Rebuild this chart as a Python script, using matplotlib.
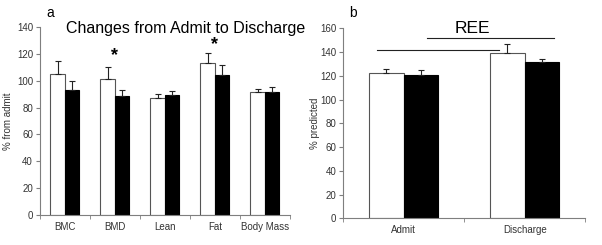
import matplotlib.pyplot as plt
import numpy as np

# panel a: body composition, % from admit
comp_labels = ["BMC", "BMD", "Lean", "Fat", "Body Mass"]
comp_white = [105, 101, 87.5, 113.5, 91.5]
comp_white_err = [10, 9, 2.5, 7, 2.5]
comp_black = [93.5, 88.5, 89.5, 104.5, 92]
comp_black_err = [6.5, 5, 3, 7.5, 3.5]
comp_star = [None, 119, None, 127, None]

# panel b: REE, % predicted
ree_labels = ["Admit", "Discharge"]
ree_white = [122.5, 139]
ree_white_err = [3.5, 8]
ree_black = [121, 131.5]
ree_black_err = [3.5, 2.5]

plt.rcParams["font.family"] = ["Liberation Sans", "DejaVu Sans"]
GREY = "#7f7f7f"
TXT = "#333333"

fig = plt.figure(figsize=(6.02, 2.45), dpi=100)
ax1 = fig.add_axes([0.0664, 0.1224, 0.415, 0.767])
ax2 = fig.add_axes([0.570, 0.109, 0.402, 0.7755])


def style(ax, labels, ymax, step):
    n = len(labels)
    ax.set_xlim(-0.5, n - 0.5)
    ax.set_ylim(0, ymax)
    ax.set_yticks(np.arange(0, ymax + 1, step))
    ax.set_xticks(np.arange(n))
    ax.set_xticklabels(labels)
    ax.set_xticks(np.arange(n + 1) - 0.5, minor=True)
    ax.tick_params(axis="x", which="major", length=0, labelsize=7,
                   labelcolor=TXT, pad=5)
    ax.tick_params(axis="x", which="minor", length=3, color=GREY,
                   direction="out")
    ax.tick_params(axis="y", length=3, color=GREY, labelsize=7,
                   labelcolor=TXT, pad=2)
    for s in ("top", "right"):
        ax.spines[s].set_visible(False)
    for s in ("left", "bottom"):
        ax.spines[s].set_color(GREY)
        ax.spines[s].set_linewidth(0.8)


def bars(ax, white, werr, black, berr, w):
    x = np.arange(len(white))
    ekw = dict(ecolor="#222222", elinewidth=0.8, capsize=2.5, capthick=0.8)
    ax.bar(x - w / 2, white, w, color="white", edgecolor="#555555",
           linewidth=0.8, yerr=[np.zeros(len(x)), werr], error_kw=ekw)
    ax.bar(x + w / 2, black, w, color="black", edgecolor="black",
           linewidth=0.8, yerr=[np.zeros(len(x)), berr], error_kw=ekw)
    return x


x1 = bars(ax1, comp_white, comp_white_err, comp_black, comp_black_err, 0.29)
style(ax1, comp_labels, 140, 20)
ax1.set_ylabel("% from admit", fontsize=7, color=TXT, labelpad=3)
for xi, s in zip(x1, comp_star):
    if s is not None:
        ax1.text(xi, s, "*", ha="center", va="center", fontsize=13,
                 fontweight="bold")
ax1.text(0.584, 0.995, "Changes from Admit to Discharge",
         transform=ax1.transAxes, ha="center", va="center", fontsize=11.5)
fig.text(50 / 602, 1 - 13 / 245, "a", fontsize=10, ha="center", va="center")

x2 = bars(ax2, ree_white, ree_white_err, ree_black, ree_black_err, 0.285)
style(ax2, ree_labels, 160, 20)
ax2.set_ylabel("% predicted", fontsize=7, color=TXT, labelpad=0)
ax2.plot([-0.22, 0.79], [142, 142], color="#222222", lw=0.8)
ax2.plot([0.19, 1.24], [151.5, 151.5], color="#222222", lw=0.8)
ax2.text(0.57, 160, "REE", ha="center", va="center", fontsize=12.5)
fig.text(353 / 602, 1 - 13 / 245, "b", fontsize=10, ha="center", va="center")

fig.savefig("out.png", dpi=100)
